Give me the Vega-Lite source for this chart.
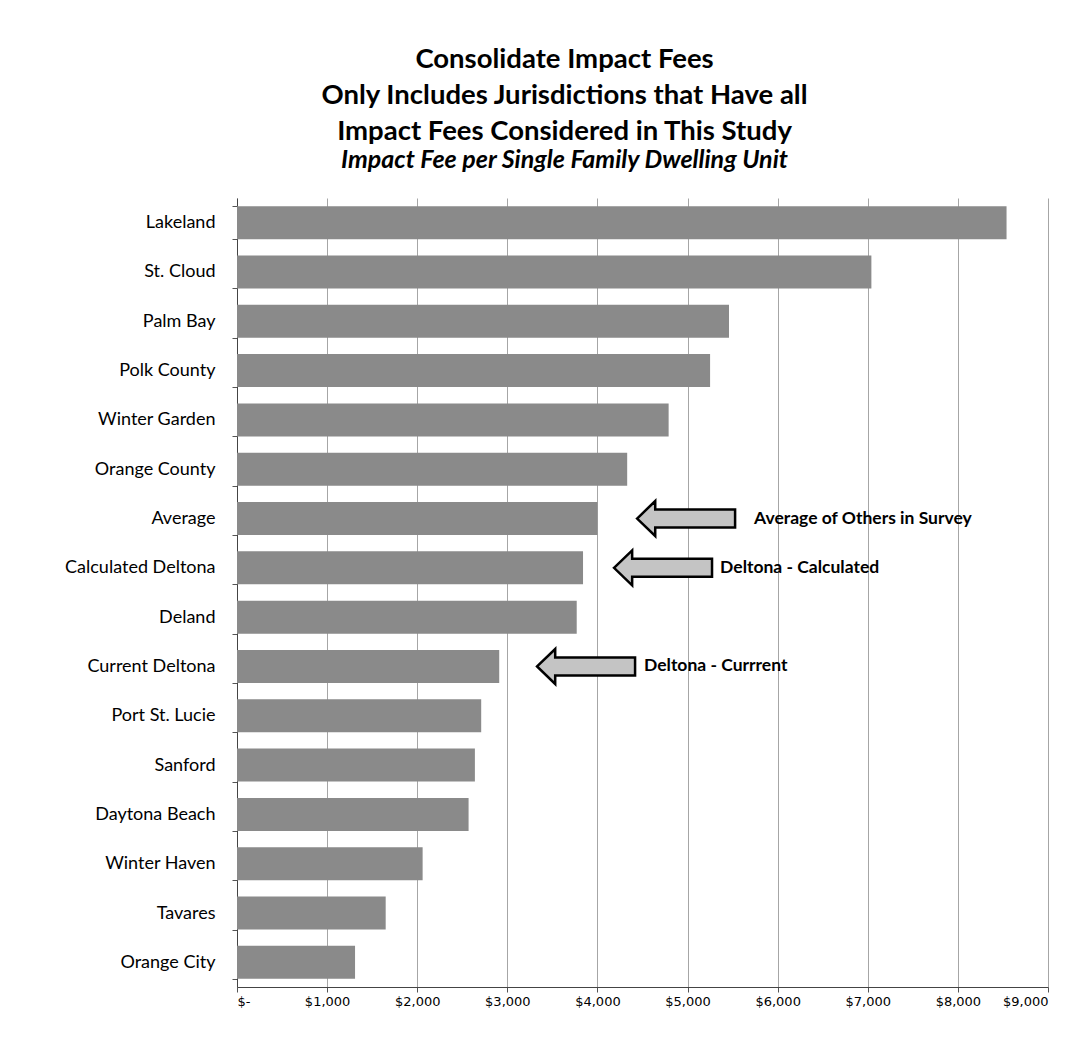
{
  "$schema": "https://vega.github.io/schema/vega-lite/v6.json",
  "autosize": {"type": "none"},
  "padding": {"left": 237, "top": 198, "right": 31, "bottom": 53},
  "width": 811,
  "height": 789,
  "background": "white",
  "title": {
    "text": ["Consolidate Impact Fees", "Only Includes Jurisdictions that Have all", "Impact Fees Considered in This Study"],
    "subtitle": "Impact Fee per Single Family Dwelling Unit",
    "anchor": "middle",
    "frame": "bounds",
    "dx": 8,
    "font": "Lato",
    "fontSize": 27.5,
    "fontWeight": "bold",
    "lineHeight": 36,
    "color": "black",
    "subtitleFont": "Lato",
    "subtitleFontSize": 25,
    "subtitleFontStyle": "italic",
    "subtitleFontWeight": "bold",
    "subtitleColor": "black",
    "subtitlePadding": 3,
    "offset": 16
  },
  "datasets": {
    "fees": [
      {"jurisdiction": "Lakeland", "fee": 8540},
      {"jurisdiction": "St. Cloud", "fee": 7040},
      {"jurisdiction": "Palm Bay", "fee": 5460},
      {"jurisdiction": "Polk County", "fee": 5250},
      {"jurisdiction": "Winter Garden", "fee": 4790},
      {"jurisdiction": "Orange County", "fee": 4330},
      {"jurisdiction": "Average", "fee": 4000},
      {"jurisdiction": "Calculated Deltona", "fee": 3840},
      {"jurisdiction": "Deland", "fee": 3770},
      {"jurisdiction": "Current Deltona", "fee": 2910},
      {"jurisdiction": "Port St. Lucie", "fee": 2710},
      {"jurisdiction": "Sanford", "fee": 2640},
      {"jurisdiction": "Daytona Beach", "fee": 2570},
      {"jurisdiction": "Winter Haven", "fee": 2060},
      {"jurisdiction": "Tavares", "fee": 1650},
      {"jurisdiction": "Orange City", "fee": 1310}
    ],
    "notes": [
      {"jurisdiction": "Average", "tip": 4440, "labelAt": 5738, "label": "Average of Others in Survey"},
      {"jurisdiction": "Calculated Deltona", "tip": 4184, "labelAt": 5361, "label": "Deltona - Calculated"},
      {"jurisdiction": "Current Deltona", "tip": 3330, "labelAt": 4517, "label": "Deltona - Currrent"}
    ]
  },
  "layer": [
    {
      "data": {"name": "fees"},
      "mark": {"type": "bar", "color": "#8a8a8a"},
      "encoding": {
        "y": {
          "field": "jurisdiction", "type": "nominal", "sort": null,
          "scale": {"paddingInner": 0.33, "paddingOuter": 0.165},
          "axis": {
            "title": null, "labelFont": "Lato", "labelFontSize": 18, "labelColor": "black",
            "labelPadding": 17, "ticks": true, "tickSize": 5, "tickBand": "extent",
            "tickColor": "#555", "domainColor": "#444", "grid": false
          }
        },
        "x": {
          "field": "fee", "type": "quantitative",
          "scale": {"domain": [0, 9000], "nice": false},
          "axis": {
            "title": null, "values": [0, 1000, 2000, 3000, 4000, 5000, 6000, 7000, 8000, 9000],
            "labelExpr": "datum.value == 0 ? '$-' : '$' + format(datum.value, ',')",
            "labelFont": "DejaVu Sans", "labelFontSize": 13, "labelColor": "black",
            "labelPadding": 3, "tickSize": 5, "tickColor": "#555", "domainColor": "#444",
            "grid": true, "gridColor": "#a6a6a6", "gridWidth": 1
          }
        }
      }
    },
    {
      "data": {"name": "notes"},
      "mark": {
        "type": "point",
        "shape": "M0,0 L0.37,-0.357 L0.37,-0.184 L2,-0.184 L2,0.184 L0.37,0.184 L0.37,0.357 Z",
        "size": 9604, "filled": true, "fill": "#c4c4c4", "stroke": "black", "strokeWidth": 2.5, "opacity": 1
      },
      "encoding": {
        "y": {"field": "jurisdiction", "type": "nominal", "sort": null},
        "x": {"field": "tip", "type": "quantitative"}
      }
    },
    {
      "data": {"name": "notes"},
      "mark": {"type": "text", "align": "left", "baseline": "middle", "font": "Lato", "fontSize": 17.5, "fontWeight": "bold", "color": "black"},
      "encoding": {
        "y": {"field": "jurisdiction", "type": "nominal", "sort": null},
        "x": {"field": "labelAt", "type": "quantitative"},
        "text": {"field": "label"}
      }
    }
  ],
  "config": {"view": {"stroke": null}}
}
